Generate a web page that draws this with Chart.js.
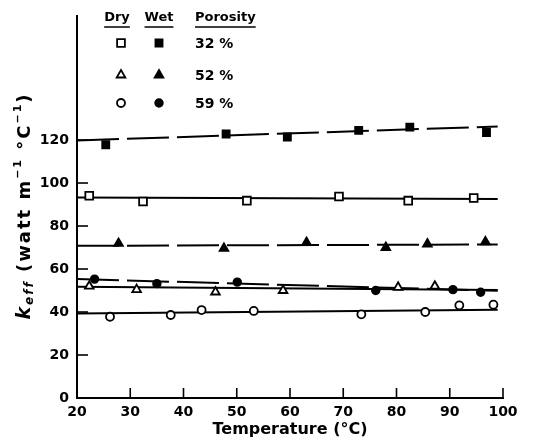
<!DOCTYPE html>
<html>
<head>
<meta charset="utf-8">
<script src="https://cdn.jsdelivr.net/npm/chart.js@4"></script>
<style>
  html, body { margin: 0; padding: 0; background: #fff; }
  canvas { display: block; }
</style>
</head>
<body>
<canvas id="kChart" width="533" height="448"></canvas>
<script>
// effective conductivity vs temperature, dry / wet samples at three porosities
const dry32T = [22.3, 32.4, 51.9, 69.2, 82.2, 94.5];
const dry32K = [94.1, 91.4, 91.8, 93.7, 91.8, 93.0];
const wet32T = [25.4, 48.0, 59.5, 72.9, 82.5, 96.9];
const wet32K = [117.8, 122.8, 121.4, 124.5, 126.0, 123.5];

const dry52T = [22.3, 31.2, 46.0, 58.7, 80.3, 87.2];
const dry52K = [52.0, 50.4, 49.3, 50.0, 51.5, 52.0];
const wet52T = [27.8, 47.6, 63.1, 78.0, 85.8, 96.7];
const wet52K = [71.9, 69.6, 72.3, 70.0, 71.6, 72.6];

const dry59T = [26.2, 37.6, 43.4, 53.2, 73.4, 85.4, 91.8, 98.2];
const dry59K = [37.8, 38.6, 40.9, 40.5, 38.9, 40.0, 43.1, 43.4];
const wet59T = [23.3, 35.0, 50.1, 76.1, 90.6, 95.8];
const wet59K = [55.3, 53.2, 53.9, 50.0, 50.4, 49.2];

// straight fitted lines, value at each end of fitT
const fitT = [20, 99];
const dry32Fit = [93.3, 92.6];
const wet32Fit = [119.8, 126.3];
const dry52Fit = [51.8, 50.2];
const wet52Fit = [70.8, 71.4];
const dry59Fit = [39.3, 41.1];
const wet59Fit = [55.3, 49.9];

const tempTicks = [20, 30, 40, 50, 60, 70, 80, 90, 100];
const kTicks = [0, 20, 40, 60, 80, 100, 120];
const porosityLabels = ['32 %', '52 %', '59 %'];
const headers = ['Dry', 'Wet', 'Porosity'];

const FONT = '"DejaVu Sans", sans-serif';

const pts = (xs, ys) => xs.map((x, i) => ({ x: x, y: ys[i] }));

const markers = {
  dry32: { pointStyle: 'rect', radius: 5.5, fill: '#fff' },
  wet32: { pointStyle: 'rect', radius: 5, fill: '#000' },
  dry52: { pointStyle: 'triangle', radius: 5, fill: '#fff' },
  wet52: { pointStyle: 'triangle', radius: 5, fill: '#000' },
  dry59: { pointStyle: 'circle', radius: 4, fill: '#fff' },
  wet59: { pointStyle: 'circle', radius: 3.8, fill: '#000' },
};

function pointSet(label, xs, ys, m) {
  return {
    label: label,
    data: pts(xs, ys),
    order: 0,
    pointStyle: m.pointStyle,
    pointRadius: m.radius,
    pointBackgroundColor: m.fill,
    pointBorderColor: '#000',
    pointBorderWidth: 1.8,
    showLine: false,
  };
}

function fitSet(label, ys, dashed) {
  return {
    label: label,
    data: pts(fitT, ys),
    order: 1,
    showLine: true,
    borderColor: '#000',
    borderWidth: 2,
    borderDash: dashed ? [42, 8] : [],
    pointRadius: 0,
  };
}

// ticks point inward from both axes
const innerTicks = {
  id: 'innerTicks',
  afterDatasetsDraw(chart) {
    const { ctx, scales: { x, y } } = chart;
    ctx.save();
    ctx.strokeStyle = '#000';
    ctx.lineWidth = 1.6;
    tempTicks.forEach(t => {
      const px = x.getPixelForValue(t);
      ctx.beginPath();
      ctx.moveTo(px, y.bottom);
      ctx.lineTo(px, y.bottom - 10);
      ctx.stroke();
    });
    kTicks.forEach(v => {
      const py = y.getPixelForValue(v);
      ctx.beginPath();
      ctx.moveTo(x.left, py);
      ctx.lineTo(x.left + 11, py);
      ctx.stroke();
    });
    ctx.restore();
  }
};

// k_eff axis title with subscript and superscripts
const yTitle = {
  id: 'yTitle',
  afterDraw(chart) {
    const { ctx } = chart;
    const parts = [
      { t: 'k', f: 'italic bold 19px ' + FONT, dy: 0 },
      { t: 'eff', f: 'italic bold 12px ' + FONT, dy: 5 },
      { t: ' (watt m', f: 'bold 18px ' + FONT, dy: 0 },
      { t: '\u22121', f: 'bold 11px ' + FONT, dy: -7 },
      { t: ' \u00b0C', f: 'bold 18px ' + FONT, dy: 0 },
      { t: '\u22121', f: 'bold 11px ' + FONT, dy: -7 },
      { t: ')', f: 'bold 18px ' + FONT, dy: 0 },
    ];
    ctx.save();
    ctx.letterSpacing = '2px';
    let total = 0;
    parts.forEach(p => { ctx.font = p.f; p.w = ctx.measureText(p.t).width; total += p.w; });
    ctx.translate(25, 206);
    ctx.rotate(-Math.PI / 2);
    ctx.fillStyle = '#000';
    ctx.textBaseline = 'middle';
    let cx = -total / 2;
    parts.forEach(p => {
      ctx.font = p.f;
      ctx.fillText(p.t, cx, p.dy);
      cx += p.w;
    });
    ctx.restore();
  }
};

// key table in the upper left of the plot
const keyTable = {
  id: 'keyTable',
  afterDraw(chart) {
    const { ctx } = chart;
    const colDry = 117, colWet = 159, colPor = 195;
    const rows = [43, 75, 103];
    ctx.save();
    ctx.fillStyle = '#000';
    ctx.strokeStyle = '#000';
    ctx.font = 'bold 13px ' + FONT;
    ctx.textBaseline = 'middle';
    const heads = [[headers[0], colDry, 'center'], [headers[1], colWet, 'center'], [headers[2], colPor, 'left']];
    heads.forEach(([t, hx, al]) => {
      ctx.textAlign = al;
      ctx.fillText(t, hx, 18);
      const w = ctx.measureText(t).width;
      const x0 = al === 'center' ? hx - w / 2 : hx;
      ctx.lineWidth = 1.5;
      ctx.beginPath();
      ctx.moveTo(x0, 27);
      ctx.lineTo(x0 + w, 27);
      ctx.stroke();
    });
    const pairs = [['dry32', 'wet32'], ['dry52', 'wet52'], ['dry59', 'wet59']];
    pairs.forEach((pr, i) => {
      [[pr[0], colDry + 4], [pr[1], colWet]].forEach(([k, mx]) => {
        const m = markers[k];
        ctx.fillStyle = m.fill;
        ctx.strokeStyle = '#000';
        ctx.lineWidth = 1.8;
        Chart.helpers.drawPoint(ctx, { pointStyle: m.pointStyle, radius: m.radius, borderWidth: 1.8, rotation: 0 }, mx, rows[i]);
      });
      ctx.fillStyle = '#000';
      ctx.textAlign = 'left';
      ctx.font = 'bold 14px ' + FONT;
      ctx.fillText(porosityLabels[i], colPor, rows[i] + 1);
    });
    ctx.restore();
  }
};

new Chart(document.getElementById('kChart'), {
  type: 'scatter',
  data: {
    datasets: [
      pointSet('Dry 32 %', dry32T, dry32K, markers.dry32),
      pointSet('Wet 32 %', wet32T, wet32K, markers.wet32),
      pointSet('Dry 52 %', dry52T, dry52K, markers.dry52),
      pointSet('Wet 52 %', wet52T, wet52K, markers.wet52),
      pointSet('Dry 59 %', dry59T, dry59K, markers.dry59),
      pointSet('Wet 59 %', wet59T, wet59K, markers.wet59),
      fitSet('fit dry 32', dry32Fit, false),
      fitSet('fit wet 32', wet32Fit, true),
      fitSet('fit dry 52', dry52Fit, false),
      fitSet('fit wet 52', wet52Fit, true),
      fitSet('fit dry 59', dry59Fit, false),
      fitSet('fit wet 59', wet59Fit, true),
    ]
  },
  options: {
    responsive: false,
    animation: false,
    layout: { padding: { left: 0, right: 30, top: 12, bottom: 9 } },
    plugins: { legend: { display: false }, tooltip: { enabled: false } },
    scales: {
      x: {
        type: 'linear',
        min: 20,
        max: 100,
        afterBuildTicks: s => { s.ticks = tempTicks.map(v => ({ value: v })); },
        afterFit: s => { s.height = 41; },
        grid: { display: false, drawTicks: false },
        border: { display: true, color: '#000', width: 2 },
        ticks: { color: '#000', padding: 6, font: { family: FONT, size: 14, weight: 'bold' } },
        title: {
          display: true,
          text: 'Temperature (\u00b0C)',
          color: '#000',
          padding: { top: 0, bottom: 0 },
          font: { family: FONT, size: 16, weight: 'bold' }
        }
      },
      y: {
        type: 'linear',
        min: 0,
        max: 177.5,
        afterBuildTicks: s => { s.ticks = kTicks.map(v => ({ value: v })); },
        afterFit: s => { s.width = 77; },
        grid: { display: false, drawTicks: false },
        border: { display: true, color: '#000', width: 2 },
        ticks: { color: '#000', padding: 8, font: { family: FONT, size: 14, weight: 'bold' } }
      }
    }
  },
  plugins: [innerTicks, yTitle, keyTable]
});
</script>
</body>
</html>
